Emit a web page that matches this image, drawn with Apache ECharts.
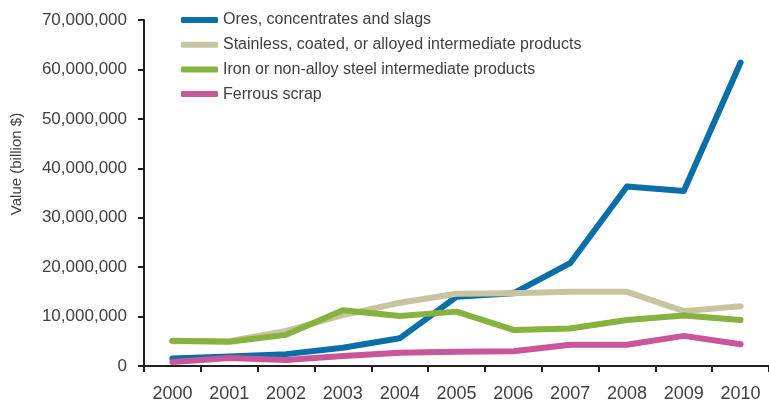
<!DOCTYPE html>
<html>
<head>
<meta charset="utf-8">
<script src="https://cdn.jsdelivr.net/npm/echarts@6/dist/echarts.min.js"></script>
<style>
html,body{margin:0;padding:0;background:#fff;}
#chart{width:769px;height:403px;}
</style>
</head>
<body>
<div id="chart"></div>
<script>
var years = ['2000','2001','2002','2003','2004','2005','2006','2007','2008','2009','2010'];
var ores = [1500000, 1900000, 2400000, 3700000, 5600000, 14000000, 14700000, 20800000, 36300000, 35400000, 61400000];
var stainless = [5000000, 5000000, 7100000, 10300000, 12800000, 14600000, 14700000, 15000000, 15000000, 11100000, 12100000];
var iron = [5100000, 4900000, 6300000, 11300000, 10100000, 11000000, 7300000, 7600000, 9300000, 10200000, 9300000];
var scrap = [800000, 1600000, 1200000, 2000000, 2700000, 2900000, 3000000, 4300000, 4300000, 6100000, 4400000];
var seriesNames = ['Ores, concentrates and slags', 'Stainless, coated, or alloyed intermediate products', 'Iron or non-alloy steel intermediate products', 'Ferrous scrap'];
var colors = ['#0a6fa6', '#c8c4a0', '#86b23e', '#c9559a'];
var yTitle = 'Value (billion $)';

var chart = echarts.init(document.getElementById('chart'));
function mk(name, data, color){
  return {
    name: name, type: 'line', data: data, showSymbol: false, symbol: 'none',
    lineStyle: {width: 6, color: color, cap: 'round', join: 'round'},
    itemStyle: {color: color},
    animation: false
  };
}
var font = 'Liberation Sans, Arial, sans-serif';
chart.setOption({
  animation: false,
  grid: {left: 144, top: 20, bottom: 37, right: -6, containLabel: false},
  legend: {
    orient: 'vertical', left: 176, top: 5, itemWidth: 37, itemHeight: 6, itemGap: 4.7,
    icon: 'roundRect',
    textStyle: {fontSize: 16, color: '#404040', fontFamily: font, lineHeight: 20},
    data: seriesNames
  },
  xAxis: {
    type: 'category', data: years, boundaryGap: true,
    axisLine: {lineStyle: {color: '#231f20', width: 2}},
    axisTick: {show: true, length: 6, lineStyle: {color: '#231f20', width: 2}},
    axisLabel: {fontSize: 18, color: '#404040', fontFamily: font, margin: 19}
  },
  yAxis: {
    type: 'value', min: 0, max: 70000000, interval: 10000000,
    splitLine: {show: false},
    axisLine: {show: true, lineStyle: {color: '#231f20', width: 2}},
    axisTick: {show: true, length: 6, lineStyle: {color: '#231f20', width: 2}},
    axisLabel: {fontSize: 17, color: '#404040', fontFamily: font, margin: 17,
      formatter: function(v){ return v.toLocaleString('en-US'); }}
  },
  graphic: [{
    type: 'text', x: 17, y: 164, rotation: Math.PI/2,
    style: {text: yTitle, fontSize: 15, fill: '#404040', fontFamily: font, textAlign: 'center', textVerticalAlign: 'middle'}
  }],
  series: [mk(seriesNames[0], ores, colors[0]), mk(seriesNames[1], stainless, colors[1]), mk(seriesNames[2], iron, colors[2]), mk(seriesNames[3], scrap, colors[3])]
});
</script>
</body>
</html>
